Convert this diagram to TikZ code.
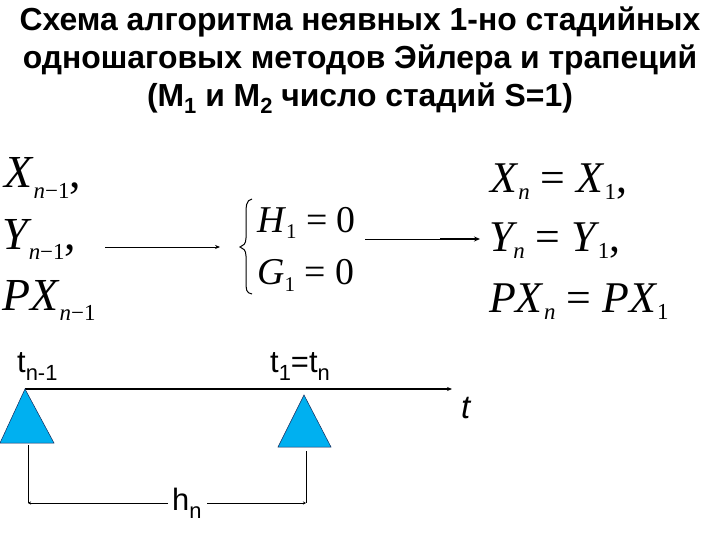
\documentclass[tikz,border=0pt]{standalone}
\usepackage{fontspec}
\setmainfont{Liberation Serif}
\newfontfamily\arialf{Liberation Sans}
\usetikzlibrary{arrows.meta}
\definecolor{triblue}{RGB}{0,176,240}
\definecolor{triedge}{RGB}{20,40,90}
\newcommand{\fsz}[1]{\fontsize{#1}{#1}\selectfont}
\newcommand{\lsub}[3]{\raisebox{-#1bp}{\fsz{#2}#3}}
\begin{document}
\begin{tikzpicture}[x=1bp,y=-1bp,
  titlef/.style={anchor=base, inner sep=0pt, font=\arialf\bfseries\fsz{32}},
  mbig/.style={anchor=base west, inner sep=0pt, font=\fsz{46}},
  mright/.style={anchor=base west, inner sep=0pt, font=\fsz{44}},
  msys/.style={anchor=base west, inner sep=0pt, font=\fsz{38}},
  lab/.style={anchor=base west, inner sep=0pt, font=\arialf\fsz{31}},
  thin arrow/.style={line width=0.8bp, -{Stealth[length=5bp,width=4bp]}},
  tri/.style={fill=triblue, draw=triedge, line width=0.5bp},
  dim/.style={line width=0.8bp},
]
\useasboundingbox (0,0) rectangle (720,540);
% title
\node[titlef] (t1) at (360,31) {Схема алгоритма неявных 1-но стадийных};
\node[titlef] (t2) at (360,69) {одношаговых методов Эйлера и трапеций};
\node[titlef] (t3) at (360,107) {(M\lsub{7}{22}{1} и M\lsub{7}{22}{2} число стадий S=1)};
% left column
\node[mbig] (lx) at (4,188) {\textit{X}\lsub{11}{23}{\textit{n}−1},};
\node[mbig] (ly) at (2,250) {\textit{Y}\kern-3bp\lsub{10}{23}{\textit{n}−1},};
\node[mbig] (lp) at (2,310) {\textit{PX}\lsub{10}{23}{\textit{n}−1}};
% system
\node[msys] (sh) at (257,233) {\textit{H}\lsub{6}{21}{1} = 0};
\node[msys] (sg) at (257,285) {\textit{G}\lsub{6}{21}{1} = 0};
\draw[line width=1bp] (252,199) .. controls (246,200) and (246,206) .. (246,216) -- (246,238)
  .. controls (246,244) and (243,246) .. (240,247) .. controls (243,248) and (246,250) .. (246,256)
  -- (246,280) .. controls (246,290) and (246,293) .. (252,294);
% right column
\node[mright] (rx) at (490,193) {\textit{X}\lsub{7}{23}{\textit{n}} = \textit{X}\lsub{7}{23}{1},};
\node[mright] (ry) at (489,252) {\textit{Y}\kern-4bp\lsub{7}{23}{\textit{n}} = \textit{Y}\kern-2bp\lsub{7}{23}{1},};
\node[mright] (rp) at (489,312) {\textit{PX}\lsub{7}{23}{\textit{n}} = \textit{PX}\lsub{7}{23}{1}};
% arrows
\coordinate (a1s) at (105,247);
\coordinate (a1e) at (220,247);
\draw[thin arrow] (a1s) -- (a1e);
\coordinate (a2s) at (365,239);
\coordinate (a2m) at (440,239);
\coordinate (a2e) at (480,239);
\draw[line width=0.8bp] (a2s) -- (a2m);
\draw[line width=1.6bp, -{Stealth[length=6bp,width=5bp]}] (a2m) -- (a2e);
% time axis
\coordinate (ax0) at (25,389);
\coordinate (ax1) at (452,389);
\draw[line width=2.2bp, -{Stealth[length=5bp,width=4bp]}] (ax0) -- (ax1);
\node[anchor=base west, inner sep=0pt, font=\arialf\itshape\fsz{33}] (tl) at (461,418) {t};
\node[lab] (ltn) at (17,372) {t\lsub{8}{22}{n-1}};
\node[lab] (lt1) at (270,372) {t\lsub{8}{22}{1}=t\lsub{8}{22}{n}};
% triangles
\draw[tri] (25,389) -- (54,443) -- (0,443) -- cycle;
\draw[tri] (304,395) -- (331,447) -- (278,447) -- cycle;
% dimension
\coordinate (d1) at (28,445);
\coordinate (d2) at (28,503);
\coordinate (d3) at (306,451);
\coordinate (d4) at (306,503);
\node[inner sep=0pt, font=\arialf\fsz{31}, anchor=base west] (hn) at (172,510) {h\lsub{8}{22}{n}};
\draw[dim] (d1) -- (d2);
\draw[dim] (d3) -- (d4);
\draw[dim, -{Stealth[length=3bp,width=3bp]}] (168,503) -- (d2);
\draw[dim, -{Stealth[length=3bp,width=3bp]}] (207,503) -- (d4);
\end{tikzpicture}
\end{document}
